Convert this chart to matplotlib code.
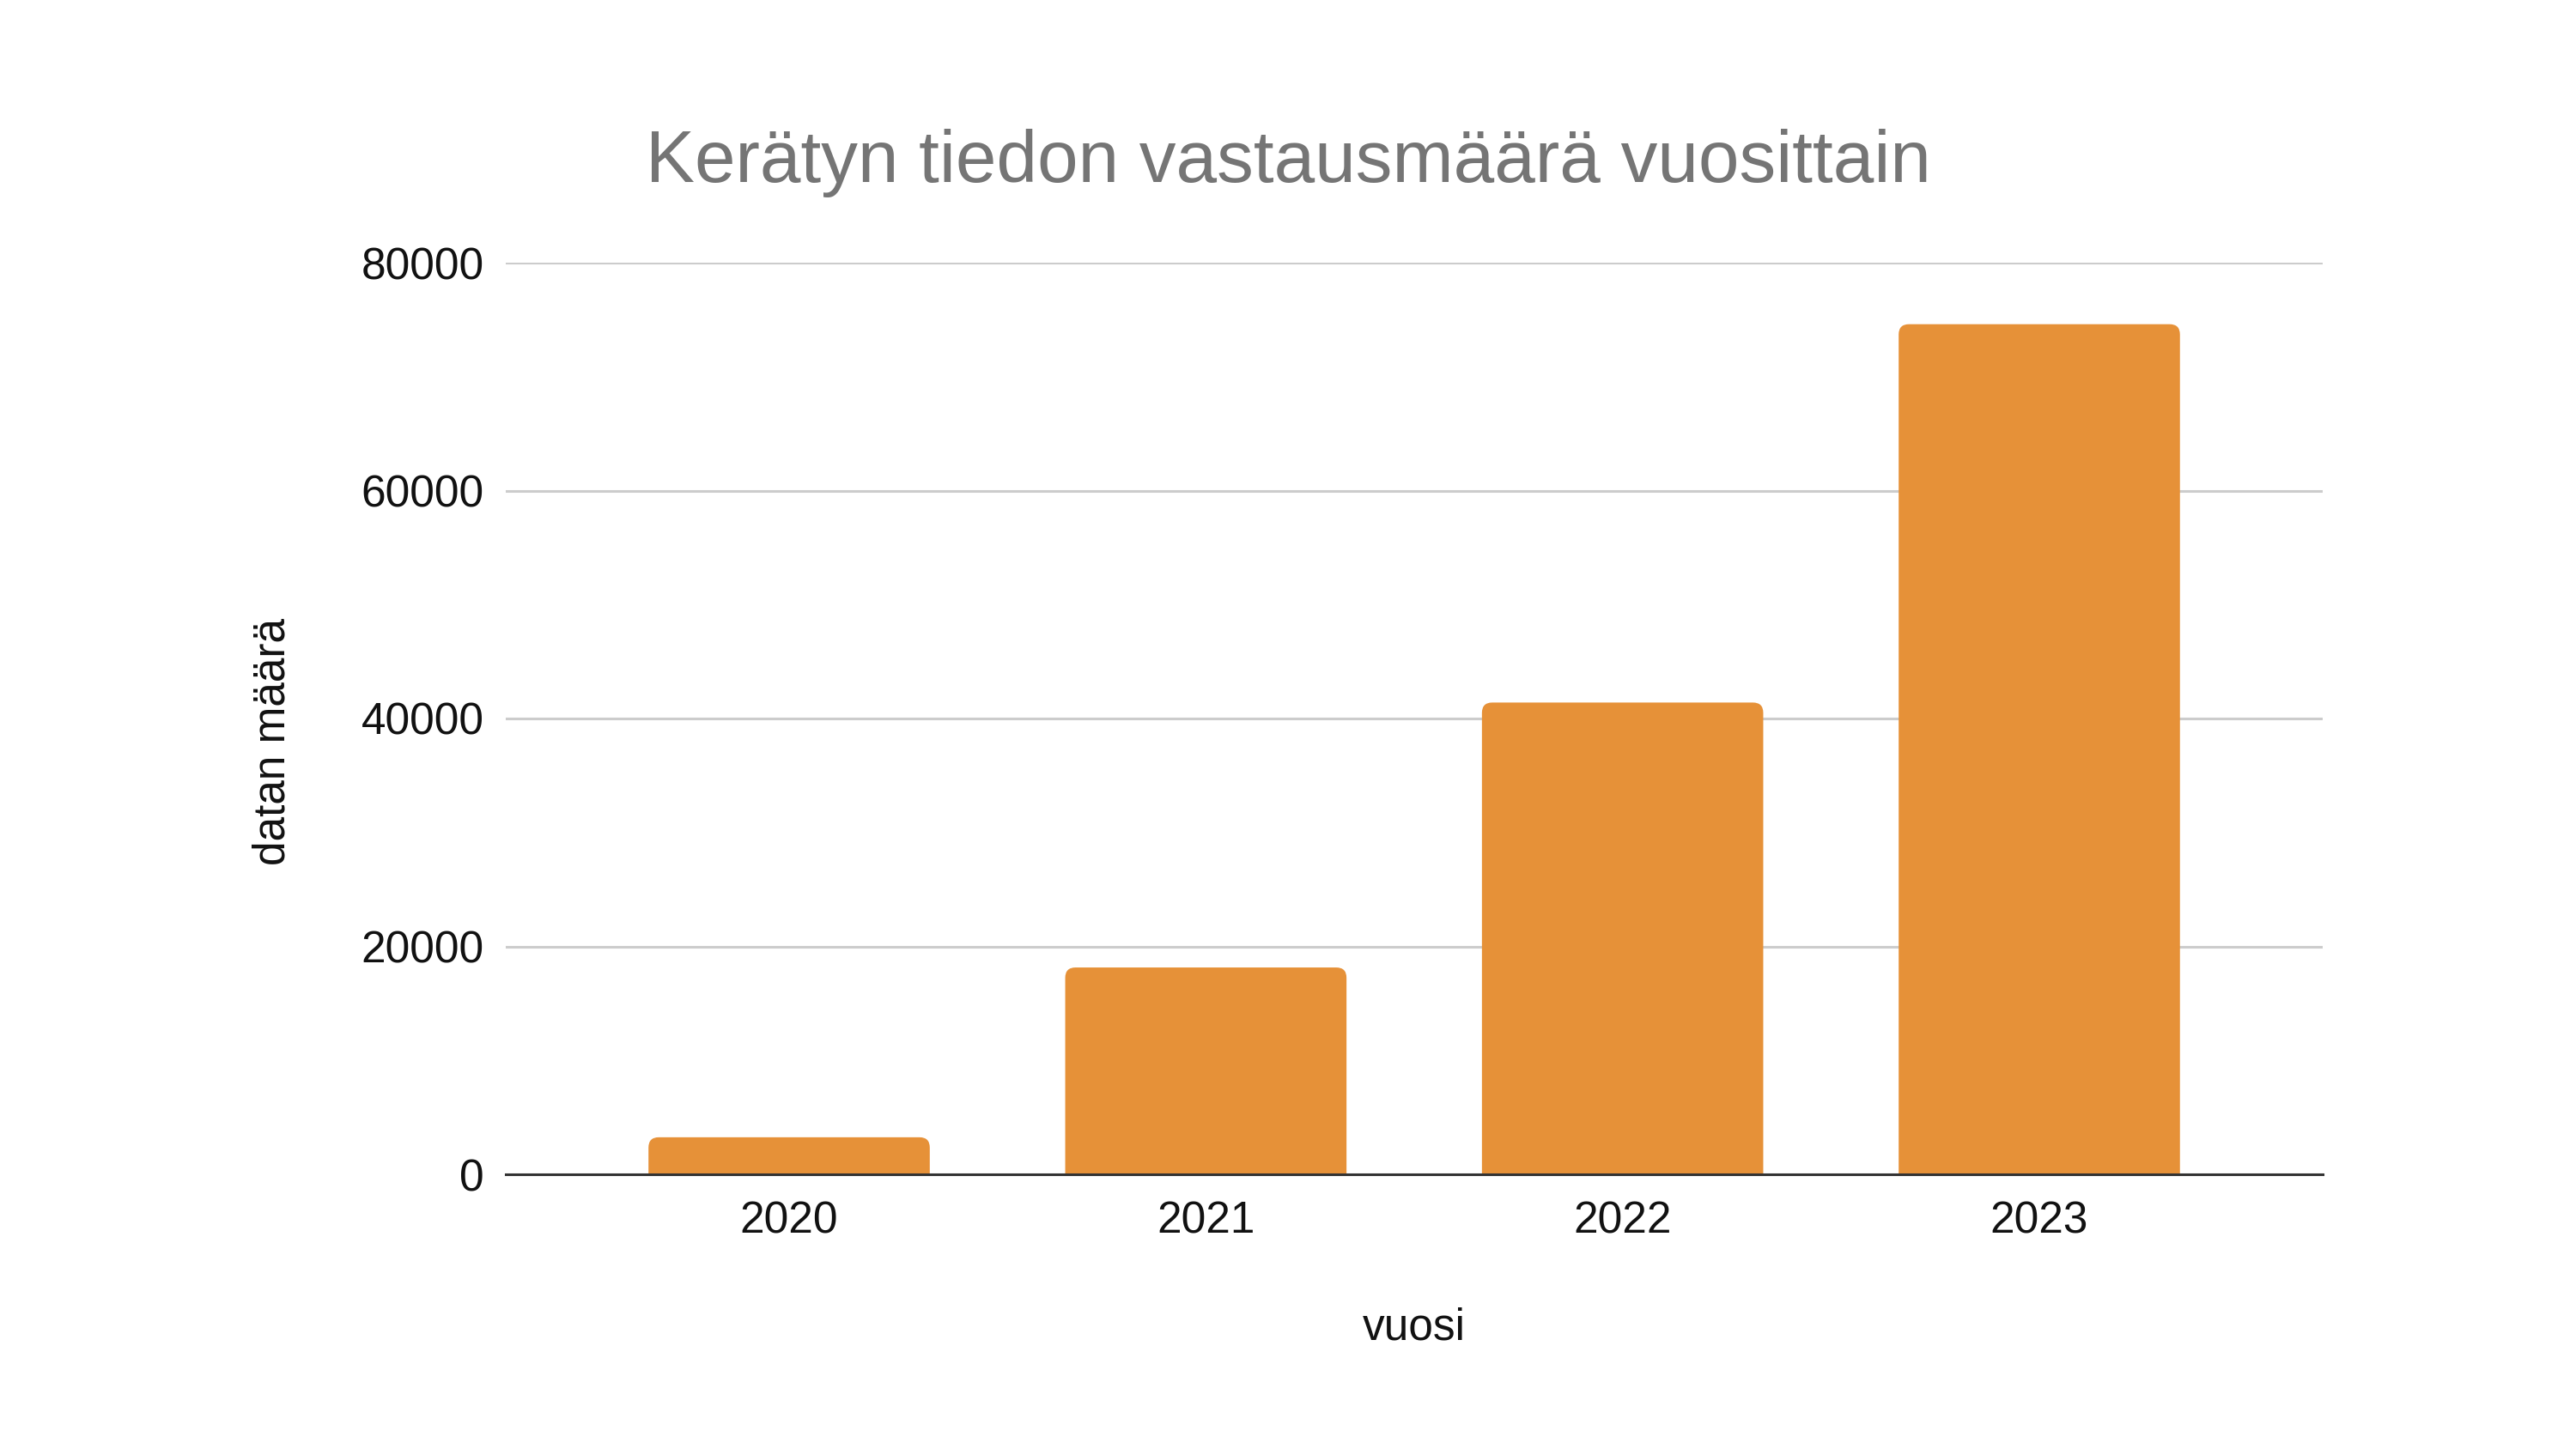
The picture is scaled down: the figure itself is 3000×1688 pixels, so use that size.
import matplotlib
matplotlib.use("Agg")
import matplotlib.pyplot as plt
from matplotlib.patches import FancyBboxPatch

# ---- data ----
years = ["2020", "2021", "2022", "2023"]
counts = [3250, 18150, 41400, 74600]
yticks = [0, 20000, 40000, 60000, 80000]

title = "Kerätyn tiedon vastausmäärä vuosittain"
xlabel = "vuosi"
ylabel = "datan määrä"

bar_color = "#E69138"

plt.rcParams['font.family'] = ['Liberation Sans', 'DejaVu Sans']

W, H = 3000, 1688
DPI = 200
fig = plt.figure(figsize=(W / DPI, H / DPI), dpi=DPI)
fig.patch.set_facecolor("white")

ax_left, ax_right = 589, 2705
ax_top, ax_bottom = 306, 1368
ax = fig.add_axes([ax_left / W, (H - ax_bottom) / H,
                   (ax_right - ax_left) / W, (ax_bottom - ax_top) / H])

x = list(range(len(years)))
bars = ax.bar(x, counts, width=0.675, color=bar_color, zorder=3)
ax.set_xlim(-0.68, len(years) - 1 + 0.68)
ax.set_ylim(0, 80000)

# rounded top corners (replace plain rectangles with rounded boxes, clipped at 0)
px_x = (ax.get_xlim()[1] - ax.get_xlim()[0]) / (ax_right - ax_left)
px_y = (ax.get_ylim()[1] - ax.get_ylim()[0]) / (ax_bottom - ax_top)
r_px = 12
rx = r_px * px_x
aspect = px_y / px_x
for b in bars:
    bx, bw, bh = b.get_x(), b.get_width(), b.get_height()
    ry = rx * aspect
    p = FancyBboxPatch((bx, -ry * 2), bw, bh + ry * 2,
                       boxstyle=f"round,pad=0,rounding_size={rx}",
                       mutation_aspect=aspect,
                       facecolor=bar_color, edgecolor="none", zorder=3)
    ax.add_patch(p)
    b.set_visible(False)

ax.set_yticks(yticks)
ax.set_yticklabels([str(v) for v in yticks])
ax.set_xticks(x)
ax.set_xticklabels(years)

ax.grid(axis="y", color="#cccccc", linewidth=1.1, zorder=0)
ax.grid(axis="x", visible=False)
for s in ["top", "right", "left"]:
    ax.spines[s].set_visible(False)
ax.spines["bottom"].set_color("#333333")
ax.spines["bottom"].set_linewidth(1.1)
ax.spines["bottom"].set_zorder(4)

ax.tick_params(axis="both", length=0, labelsize=18.5, colors="#111111")
ax.tick_params(axis="x", pad=11)
ax.tick_params(axis="y", pad=9.2)

ax.set_xlabel(xlabel, fontsize=18.5, color="#111111", va="center")
ax.xaxis.set_label_coords(0.5, (ax_bottom - 1547) / (ax_bottom - ax_top))
ax.set_ylabel(ylabel, fontsize=18.5, color="#111111", va="center")
ax.yaxis.set_label_coords((318 - ax_left) / (ax_right - ax_left),
                          (ax_bottom - 864) / (ax_bottom - ax_top))

fig.text(0.5, 1 - 212 / H, title, ha="center", va="baseline",
         fontsize=30.8, color="#757575")

fig.savefig("out.png", dpi=DPI, facecolor="white")
